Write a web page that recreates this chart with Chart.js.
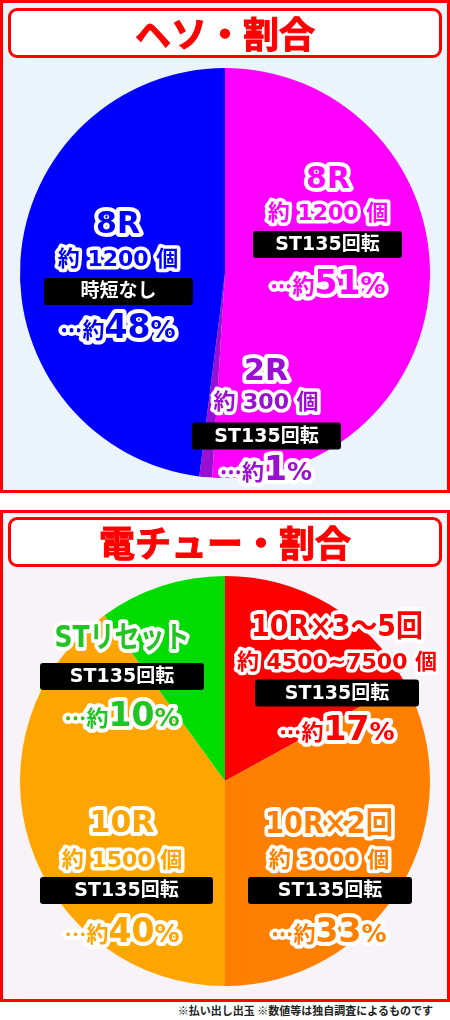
<!DOCTYPE html>
<html lang="ja">
<head>
<meta charset="utf-8">
<script src="https://cdn.jsdelivr.net/npm/chart.js@4.4.1/dist/chart.umd.min.js"></script>
<style>
  html, body { margin: 0; padding: 0; background: #fff; }
  body { width: 450px; height: 1020px; position: relative; overflow: hidden;
         font-family: "Noto Sans CJK JP", "Noto Sans", sans-serif; }
  .panel { position: absolute; left: 0; width: 450px; box-sizing: border-box; border: 3px solid #f00; }
  #heso { top: 0; height: 493px; background: #eaf4fa; }
  #denchu { top: 510px; height: 492px; background: #f8f3f8; }
  .title { position: absolute; left: 5px; top: 5px; width: 434px; height: 50px; box-sizing: border-box;
           background: #fff; border: 3px solid #f00; border-radius: 9px; color: #f00;
           font-weight: 700; font-size: 36px; line-height: 43px; text-align: center; z-index: 2;
           -webkit-text-stroke: 1px #f00; }
  #denchu .title { top: 4px; }
  .wrap { position: absolute; left: 0; top: 0; width: 444px; height: 100%; }
  .note { position: absolute; right: 17px; top: 1002px; font-size: 11px; line-height: 16px;
          font-weight: 700; color: #222; white-space: nowrap; }
</style>
</head>
<body>
<div class="panel" id="heso">
  <div class="title">ヘソ・割合</div>
  <div class="wrap"><canvas id="hesoChart"></canvas></div>
</div>
<div class="panel" id="denchu">
  <div class="title">電チュー・割合</div>
  <div class="wrap"><canvas id="denchuChart"></canvas></div>
</div>
<div class="note">※払い出し出玉 ※数値等は独自調査によるものです</div>

<script>
// ===== ヘソ =====
const hesoCategories = ["8R（ST135回転）", "2R（ST135回転）", "8R（時短なし）"];
const hesoValues = [51, 1, 48];
const hesoRounds = ["8R", "2R", "8R"];
const hesoPayouts = ["約 1200 個", "約 300 個", "約 1200 個"];
const hesoModes = ["ST135回転", "ST135回転", "時短なし"];
const hesoColors = ["#ff00ff", "#9a10d2", "#0000ff"];
const hesoTextColors = ["#ff00ff", "#9a10d2", "#0000ff"];

// ===== 電チュー =====
const denchuCategories = ["10R×3～5回", "10R×2回", "10R", "STリセット"];
const denchuValues = [17, 33, 40, 10];
const denchuRounds = ["10R×3～5回", "10R×2回", "10R", "STリセット"];
const denchuPayouts = ["約 4500~7500 個", "約 3000 個", "約 1500 個", ""];
const denchuModes = ["ST135回転", "ST135回転", "ST135回転", "ST135回転"];
const denchuColors = ["#ff0000", "#ff8000", "#ffa500", "#00dc00"];
const denchuTextColors = ["#ff0000", "#ff8000", "#ffa500", "#22c322"];

const LAT = '"DejaVu Sans", "Noto Sans CJK JP", sans-serif';
const CJK = '"Noto Sans CJK JP", sans-serif';

// label placement, offsets from the pie centre (tw = max title width)
const hesoPlace = [
  { x: 103, t: -93.5, s: -60, b: -28.5, p: 8.5, bx: 102.5, bw: 149, tw: 200 },
  { x: 41, t: 98, s: 129.5, b: 163, p: 195, bx: 41.5, bw: 149, tw: 200 },
  { x: -107, t: -48.5, s: -14, b: 18.5, p: 52.5, bx: -106.5, bw: 149, tw: 200 },
];
const denchuPlace = [
  { x: 112, t: -154, s: -118.5, b: -88, p: -53.5, bx: 112, bw: 164, tw: 180 },
  { x: 104, t: 43, s: 79, b: 109.5, p: 148.5, bx: 105, bw: 164, tw: 136 },
  { x: -103, t: 42.5, s: 79, b: 109.5, p: 148.5, bx: -98.5, bw: 173, tw: 200 },
  { x: -103, t: -143, s: 0, b: -104.5, p: -67.5, bx: -103, bw: 164, tw: 143 },
];

function outlined(ctx, text, x, y, size, fill, line, maxW) {
  ctx.font = `700 ${size}px ${LAT}`;
  ctx.lineJoin = "round";
  ctx.lineWidth = line;
  ctx.strokeStyle = "#fff";
  ctx.strokeText(text, x, y, maxW);
  ctx.fillStyle = fill;
  ctx.fillText(text, x, y, maxW);
}

function makeLabels(rounds, payouts, modes, textColors, place) {
  return {
    id: "sliceLabels",
    afterDatasetsDraw(chart) {
      const ctx = chart.ctx;
      const arcs = chart.getDatasetMeta(0).data;
      const values = chart.data.datasets[0].data;
      ctx.save();
      place.forEach((p, i) => {
        const cx = arcs[i].x, cy = arcs[i].y;
        const col = textColors[i];
        ctx.textAlign = "center";
        ctx.textBaseline = "middle";
        outlined(ctx, rounds[i], cx + p.x, cy + p.t + 1, 30, col, 8, p.tw - 8);
        if (payouts[i]) outlined(ctx, payouts[i], cx + p.x, cy + p.s + 1, 22, col, 7);

        // black box
        ctx.fillStyle = "#000";
        ctx.beginPath();
        ctx.roundRect(cx + p.bx - p.bw / 2, cy + p.b - 13.5, p.bw, 27, 3);
        ctx.fill();
        ctx.fillStyle = "#fff";
        ctx.font = `700 19px ${LAT}`;
        ctx.fillText(modes[i], cx + p.bx, cy + p.b + 1);

        // ・・・約xx%
        const parts = [
          { t: "…約", f: `700 22px ${CJK}` },
          { t: String(values[i]), f: `700 33px ${LAT}` },
          { t: "%", f: `700 25px ${LAT}` },
        ];
        let total = 0;
        parts.forEach(q => {
          ctx.font = q.f;
          q.w = ctx.measureText(q.t).width;
          total += q.w;
        });
        const base = cy + p.p + 12;
        ctx.textAlign = "left";
        ctx.textBaseline = "alphabetic";
        ctx.lineJoin = "round";
        ctx.strokeStyle = "#fff";
        ctx.lineWidth = 8;
        let x = cx + p.x - total / 2;
        parts.forEach(q => {
          ctx.font = q.f;
          ctx.strokeText(q.t, x, base);
          x += q.w;
        });
        x = cx + p.x - total / 2;
        ctx.fillStyle = col;
        parts.forEach(q => {
          ctx.font = q.f;
          ctx.fillText(q.t, x, base);
          x += q.w;
        });
      });
      ctx.restore();
    },
  };
}

function pie(id, labels, values, colors, padding, labelPlugin) {
  return new Chart(document.getElementById(id), {
    type: "pie",
    data: {
      labels: labels,
      datasets: [{ data: values, backgroundColor: colors, borderWidth: 0, hoverOffset: 0 }],
    },
    options: {
      responsive: true,
      maintainAspectRatio: false,
      animation: false,
      events: [],
      layout: { padding: padding },
      plugins: { legend: { display: false }, tooltip: { enabled: false } },
    },
    plugins: [labelPlugin],
  });
}

pie("hesoChart", hesoCategories, hesoValues, hesoColors,
  { left: 17, right: 17, top: 65, bottom: 12 },
  makeLabels(hesoRounds, hesoPayouts, hesoModes, hesoTextColors, hesoPlace));

pie("denchuChart", denchuCategories, denchuValues, denchuColors,
  { left: 17, right: 17, top: 63, bottom: 13 },
  makeLabels(denchuRounds, denchuPayouts, denchuModes, denchuTextColors, denchuPlace));
</script>
</body>
</html>
